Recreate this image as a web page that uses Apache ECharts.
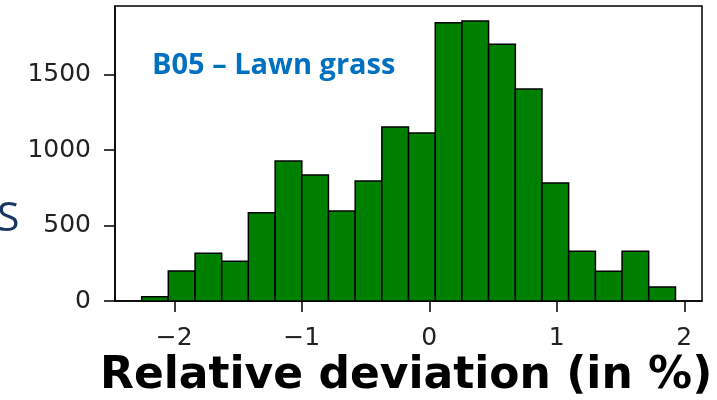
<!DOCTYPE html>
<html>
<head>
<meta charset="utf-8">
<script src="https://cdn.jsdelivr.net/npm/echarts@6/dist/echarts.min.js"></script>
<style>html,body{margin:0;padding:0;background:#fff;}#c{width:717px;height:400px;}</style>
</head>
<body>
<div id="c"></div>
<script>
// Histogram bin edges (relative deviation, %)
var binEdges = [-2.256, -2.047, -1.837, -1.628, -1.419, -1.209, -1.000, -0.791, -0.581, -0.372, -0.163, 0.047, 0.256, 0.465, 0.675, 0.884, 1.093, 1.303, 1.512, 1.721, 1.931];
// Counts per bin
var counts = [28, 199, 316, 263, 585, 927, 834, 596, 795, 1152, 1113, 1843, 1854, 1700, 1404, 781, 329, 197, 329, 93];
var xTicks = [-2, -1, 0, 1, 2];
var yTicks = [0, 500, 1000, 1500];
var xLabel = 'Relative deviation (in %)';
var panelLabel = 'B05 – Lawn grass';
var sideLetter = 'S';

var data = counts.map(function (c, i) { return [binEdges[i], binEdges[i + 1], c]; });
var chart = echarts.init(document.getElementById('c'), null, {renderer: 'canvas'});
var tickFont = {fontFamily: 'DejaVu Sans', fontSize: 25, color: '#222'};
chart.setOption({
  animation: false,
  backgroundColor: '#fff',
  grid: {left: 115, right: 15, top: 6, bottom: 99, show: true, borderColor: '#000', borderWidth: 1.5, backgroundColor: 'transparent'},
  xAxis: {
    type: 'value', min: -2.465, max: 2.139,
    splitLine: {show: false},
    axisLine: {show: true, onZero: false, lineStyle: {color: '#000', width: 1.5}},
    axisTick: {show: true, inside: false, length: 11, customValues: xTicks, lineStyle: {color: '#000', width: 1.5}},
    axisLabel: Object.assign({margin: 25, customValues: xTicks, formatter: function (v) { return v < 0 ? '\u2212' + Math.abs(v) : String(v); }}, tickFont)
  },
  yAxis: {
    type: 'value', min: 0, max: 1954,
    splitLine: {show: false},
    axisLine: {show: true, onZero: false, lineStyle: {color: '#000', width: 1.5}},
    axisTick: {show: true, inside: false, length: 11, customValues: yTicks, lineStyle: {color: '#000', width: 1.5}},
    axisLabel: Object.assign({margin: 24, customValues: yTicks, formatter: function (v) { return String(v); }}, tickFont)
  },
  series: [{
    type: 'custom',
    data: data,
    encode: {x: [0, 1], y: 2},
    renderItem: function (params, api) {
      var p0 = api.coord([api.value(0), 0]);
      var p1 = api.coord([api.value(1), api.value(2)]);
      return {
        type: 'rect',
        shape: {x: p0[0], y: p1[1], width: p1[0] - p0[0], height: p0[1] - p1[1]},
        style: {fill: '#008000', stroke: '#000', lineWidth: 1.5}
      };
    }
  }],
  graphic: [
    {type: 'text', left: 152, top: 51, style: {text: panelLabel, font: 'bold 29px "Open Sans"', fill: '#0070C0'}},
    {type: 'text', left: -3, top: 199, style: {text: sideLetter, font: '41px "Open Sans"', fill: '#17375E'}},
    {type: 'text', left: 100, top: 355, style: {text: xLabel, font: 'bold 44px "DejaVu Sans"', fill: '#000'}}
  ]
});
</script>
</body>
</html>
